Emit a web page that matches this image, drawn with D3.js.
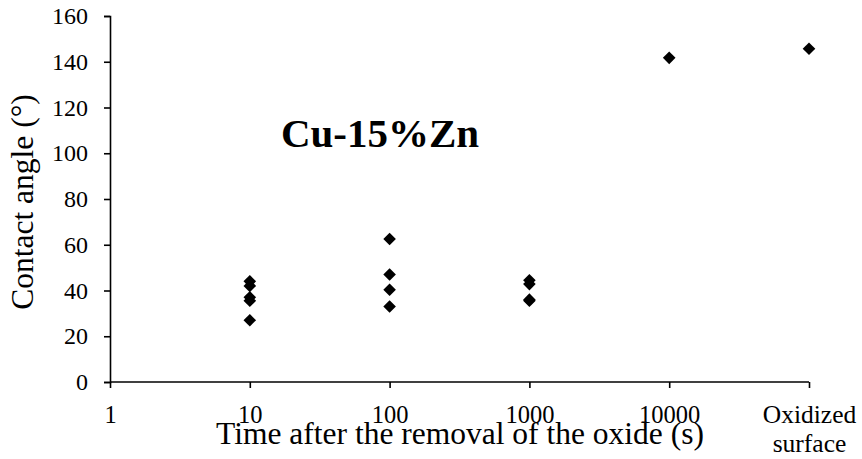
<!DOCTYPE html>
<html>
<head>
<meta charset="utf-8">
<script src="https://cdn.jsdelivr.net/npm/d3@7"></script>
<style>
  html, body { margin: 0; padding: 0; background: #fff; }
  svg { display: block; }
  svg text { font-family: "Liberation Serif", Tinos, "Times New Roman", Times, "DejaVu Serif", serif !important; fill: #000; }
</style>
</head>
<body>
<svg id="chart" width="862" height="459"></svg>
<script>
// Time categories on the x axis (log steps plus the oxidized reference)
const categories = ["1", "10", "100", "1000", "10000", "Oxidized surface"];
// Measured contact angles (degrees) per category
const angles10 = [44, 42, 37, 35.5, 27];
const angles100 = [62.5, 47, 40.3, 33];
const angles1000 = [44.5, 42.8, 36, 35.5];
const angles10000 = [141.7];
const anglesOxidized = [145.7];
const yTicks = [0, 20, 40, 60, 80, 100, 120, 140, 160];

const points = [
  ...angles10.map(v => ({ cat: "10", v })),
  ...angles100.map(v => ({ cat: "100", v })),
  ...angles1000.map(v => ({ cat: "1000", v })),
  ...angles10000.map(v => ({ cat: "10000", v })),
  ...anglesOxidized.map(v => ({ cat: "Oxidized surface", v }))
];

const svg = d3.select("#chart");
const plotLeft = 110, plotRight = 809, plotTop = 16, plotBottom = 382;

const x = d3.scalePoint().domain(categories).range([plotLeft, plotRight]).padding(0);
const y = d3.scaleLinear().domain([0, 160]).range([plotBottom, plotTop]);

// Y axis
const yAxis = svg.append("g")
  .attr("transform", `translate(${plotLeft},0)`)
  .call(d3.axisLeft(y).tickValues(yTicks).tickSize(6).tickPadding(16));
yAxis.attr("font-family", null).attr("font-size", null);
yAxis.select(".domain").attr("stroke", "#000").attr("stroke-width", 1.6);
yAxis.selectAll(".tick line").attr("stroke", "#000").attr("stroke-width", 1.6);
yAxis.selectAll(".tick text").style("font-size", "24px");

// X axis
const xAxis = svg.append("g")
  .attr("transform", `translate(0,${plotBottom})`)
  .call(d3.axisBottom(x).tickSize(6).tickSizeOuter(0).tickFormat(() => ""));
xAxis.attr("font-family", null).attr("font-size", null);
xAxis.select(".domain").attr("stroke", "#000").attr("stroke-width", 1.6)
  .attr("d", `M${plotLeft},0H${plotRight}`);
xAxis.selectAll(".tick line").attr("stroke", "#000").attr("stroke-width", 1.6);

// X tick labels (last one wraps onto two lines)
xAxis.selectAll(".tick").each(function(d) {
  const t = d3.select(this).select("text")
    .text(null)
    .attr("y", 0)
    .attr("dy", null)
    .style("font-size", d === "Oxidized surface" ? "25.5px" : "24.5px");
  const lines = d === "Oxidized surface" ? ["Oxidized", "surface"] : [d];
  lines.forEach((ln, i) => {
    t.append("tspan").attr("x", 0).attr("y", 41 + i * 29).text(ln);
  });
});

// Axis titles
svg.append("text")
  .attr("x", 460).attr("y", 444)
  .attr("text-anchor", "middle")
  .style("font-size", "31.5px")
  .text("Time after the removal of the oxide (s)");

svg.append("text")
  .attr("transform", "translate(33,202) rotate(-90)")
  .attr("text-anchor", "middle")
  .style("font-size", "31.5px")
  .text("Contact angle (°)");

// Alloy label
svg.append("text")
  .attr("x", 380).attr("y", 147)
  .attr("text-anchor", "middle")
  .style("font-size", "41px")
  .style("font-weight", "bold")
  .text("Cu-15%Zn");

// Diamond markers
const r = 6.3;
svg.append("g").selectAll("path")
  .data(points)
  .join("path")
  .attr("transform", d => `translate(${x(d.cat)},${y(d.v)})`)
  .attr("d", `M0,${-r}L${r},0L0,${r}L${-r},0Z`)
  .attr("fill", "#000");
</script>
</body>
</html>
